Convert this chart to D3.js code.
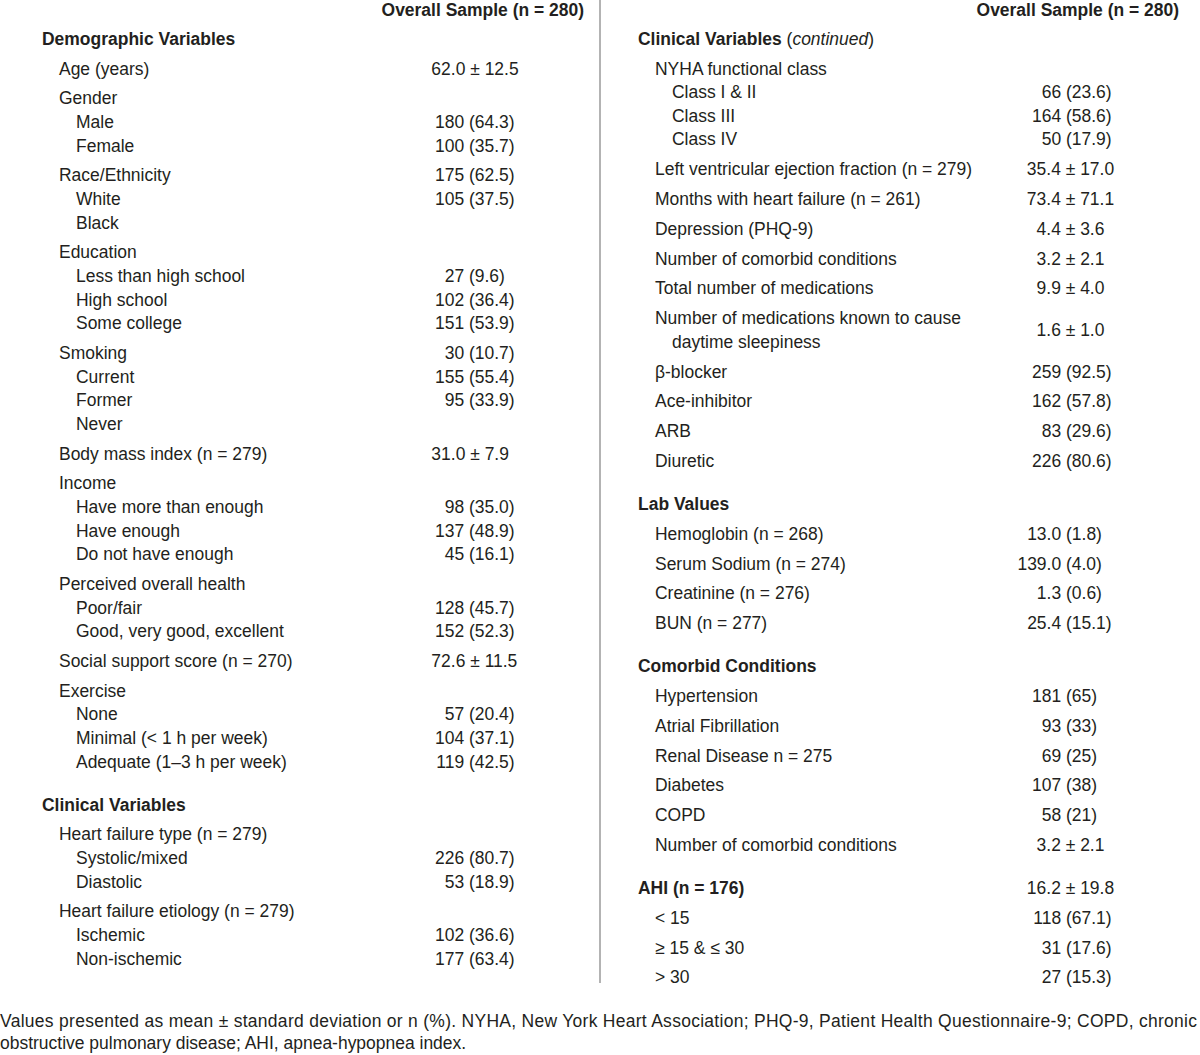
<!DOCTYPE html>
<html>
<head>
<meta charset="utf-8">
<script src="https://cdn.jsdelivr.net/npm/d3@7"></script>
<style>
  html, body { margin: 0; padding: 0; background: #fff; }
  svg { display: block; }
</style>
</head>
<body>
<svg id="chart" width="1200" height="1055"></svg>
<script>
// ---------------- DATA ----------------
const headerLabel = "Overall Sample (n = 280)";

// [label, value, indent level, step before row: F first, G group, S sub-item, X new section]
const leftRows = [
  ["Demographic Variables", "", 0, "F"],
  ["Age (years)", "62.0 ± 12.5", 1, "G"],
  ["Gender", "", 1, "G"],
  ["Male", "180 (64.3)", 2, "S"],
  ["Female", "100 (35.7)", 2, "S"],
  ["Race/Ethnicity", "175 (62.5)", 1, "G"],
  ["White", "105 (37.5)", 2, "S"],
  ["Black", "", 2, "S"],
  ["Education", "", 1, "G"],
  ["Less than high school", "27 (9.6)", 2, "S"],
  ["High school", "102 (36.4)", 2, "S"],
  ["Some college", "151 (53.9)", 2, "S"],
  ["Smoking", "30 (10.7)", 1, "G"],
  ["Current", "155 (55.4)", 2, "S"],
  ["Former", "95 (33.9)", 2, "S"],
  ["Never", "", 2, "S"],
  ["Body mass index (n = 279)", "31.0 ± 7.9", 1, "G"],
  ["Income", "", 1, "G"],
  ["Have more than enough", "98 (35.0)", 2, "S"],
  ["Have enough", "137 (48.9)", 2, "S"],
  ["Do not have enough", "45 (16.1)", 2, "S"],
  ["Perceived overall health", "", 1, "G"],
  ["Poor/fair", "128 (45.7)", 2, "S"],
  ["Good, very good, excellent", "152 (52.3)", 2, "S"],
  ["Social support score (n = 270)", "72.6 ± 11.5", 1, "G"],
  ["Exercise", "", 1, "G"],
  ["None", "57 (20.4)", 2, "S"],
  ["Minimal (< 1 h per week)", "104 (37.1)", 2, "S"],
  ["Adequate (1–3 h per week)", "119 (42.5)", 2, "S"],
  ["Clinical Variables", "", 0, "X"],
  ["Heart failure type (n = 279)", "", 1, "G"],
  ["Systolic/mixed", "226 (80.7)", 2, "S"],
  ["Diastolic", "53 (18.9)", 2, "S"],
  ["Heart failure etiology (n = 279)", "", 1, "G"],
  ["Ischemic", "102 (36.6)", 2, "S"],
  ["Non-ischemic", "177 (63.4)", 2, "S"]
];

const rightRows = [
  ["Clinical Variables", "", 0, "F", "continued"],
  ["NYHA functional class", "", 1, "G"],
  ["Class I & II", "66 (23.6)", 2, "S"],
  ["Class III", "164 (58.6)", 2, "S"],
  ["Class IV", "50 (17.9)", 2, "S"],
  ["Left ventricular ejection fraction (n = 279)", "35.4 ± 17.0", 1, "G"],
  ["Months with heart failure (n = 261)", "73.4 ± 71.1", 1, "G"],
  ["Depression (PHQ-9)", "4.4 ± 3.6", 1, "G"],
  ["Number of comorbid conditions", "3.2 ± 2.1", 1, "G"],
  ["Total number of medications", "9.9 ± 4.0", 1, "G"],
  ["Number of medications known to cause|daytime sleepiness", "1.6 ± 1.0", 1, "G"],
  ["β-blocker", "259 (92.5)", 1, "G"],
  ["Ace-inhibitor", "162 (57.8)", 1, "G"],
  ["ARB", "83 (29.6)", 1, "G"],
  ["Diuretic", "226 (80.6)", 1, "G"],
  ["Lab Values", "", 0, "X"],
  ["Hemoglobin (n = 268)", "13.0 (1.8)", 1, "G"],
  ["Serum Sodium (n = 274)", "139.0 (4.0)", 1, "G"],
  ["Creatinine (n = 276)", "1.3 (0.6)", 1, "G"],
  ["BUN (n = 277)", "25.4 (15.1)", 1, "G"],
  ["Comorbid Conditions", "", 0, "X"],
  ["Hypertension", "181 (65)", 1, "G"],
  ["Atrial Fibrillation", "93 (33)", 1, "G"],
  ["Renal Disease n = 275", "69 (25)", 1, "G"],
  ["Diabetes", "107 (38)", 1, "G"],
  ["COPD", "58 (21)", 1, "G"],
  ["Number of comorbid conditions", "3.2 ± 2.1", 1, "G"],
  ["AHI (n = 176)", "16.2 ± 19.8", 0, "X"],
  ["< 15", "118 (67.1)", 1, "G"],
  ["≥ 15 & ≤ 30", "31 (17.6)", 1, "G"],
  ["> 30", "27 (15.3)", 1, "G"]
];

const footnoteLines = [
  "Values presented as mean ± standard deviation or n (%). NYHA, New York Heart Association; PHQ-9, Patient Health Questionnaire-9; COPD, chronic",
  "obstructive pulmonary disease; AHI, apnea-hypopnea index."
];

// ---------------- LAYOUT ----------------
const FONT = "'Liberation Sans Narrow', 'Arial Narrow', 'Liberation Sans', Arial, sans-serif";
const FS = 18.5;
const SX = 0.945;            // horizontal condensing of the typeface
const INK = "#231f20";
const steps = { F: 0, G: 29.8, S: 23.6, X: 43 };
const firstY = 38;           // centre of first row
const baseOff = 6.7;         // centre -> baseline
const svg = d3.select("#chart");

function addText(parent, x, y) {
  const t = parent.append("text")
    .attr("transform", `translate(${x},${y}) scale(${SX},1)`)
    .style("font-family", FONT).style("font-size", FS + "px")
    .attr("fill", INK);
  return t;
}

function layoutRows(rows) {
  let acc = 0;
  const out = [];
  rows.forEach(r => {
    acc += steps[r[3]];
    const lines = r[0].split("|");
    const item = { label: lines, value: r[1], level: r[2], extra: r[4], y0: acc };
    acc += (lines.length - 1) * steps.S;
    item.y1 = acc;
    out.push(item);
  });
  return { items: out, total: acc };
}

const panels = [
  { rows: leftRows, x0: 42, indent: 17, headerRight: 584, parenX: 469, pmX: 475 },
  { rows: rightRows, x0: 638, indent: 17, headerRight: 1179, parenX: 1066, pmX: 1070.5 }
];

panels.forEach(p => {
  const L = layoutRows(p.rows);
  const y = d3.scaleLinear().domain([0, L.total]).range([firstY, firstY + L.total]);

  addText(svg, p.headerRight, 16)
    .attr("text-anchor", "end")
    .style("font-weight", "bold")
    .text(headerLabel);

  const g = svg.append("g");
  L.items.forEach(it => {
    const lx = p.x0 + it.level * p.indent;
    it.label.forEach((line, i) => {
      const t = addText(g, lx + (i > 0 ? p.indent : 0), y(it.y0 + i * steps.S) + baseOff);
      if (it.level === 0) {
        t.append("tspan").style("font-weight", "bold").text(line);
        if (it.extra) {
          t.append("tspan").text(" (");
          t.append("tspan").style("font-style", "italic").text(it.extra);
          t.append("tspan").text(")");
        }
      } else {
        t.text(line);
      }
    });
    if (it.value) {
      const vy = y((it.y0 + it.y1) / 2) + baseOff;
      const vt = addText(g, 0, vy).text(it.value);
      const node = vt.node();
      const ip = it.value.indexOf("(");
      let x;
      if (ip >= 0) {
        x = p.parenX - (ip > 0 ? node.getSubStringLength(0, ip) : 0) * SX;
      } else {
        const im = it.value.indexOf("±");
        const pre = im > 0 ? node.getSubStringLength(0, im) : 0;
        const w = node.getSubStringLength(im, 1);
        x = p.pmX - (pre + w / 2) * SX;
      }
      vt.attr("transform", `translate(${x},${vy}) scale(${SX},1)`);
    }
  });
});

// divider
svg.append("line")
  .attr("x1", 600).attr("x2", 600).attr("y1", 0).attr("y2", 983)
  .attr("stroke", "#b3b3b3").attr("stroke-width", 2);

// footnote (first line justified to full width)
footnoteLines.forEach((line, i) => {
  const t = addText(svg, 0, 1026.5 + i * 22.5).text(line);
  if (i === 0) {
    t.attr("textLength", 1197 / SX).attr("lengthAdjust", "spacing");
  }
});
</script>
</body>
</html>
